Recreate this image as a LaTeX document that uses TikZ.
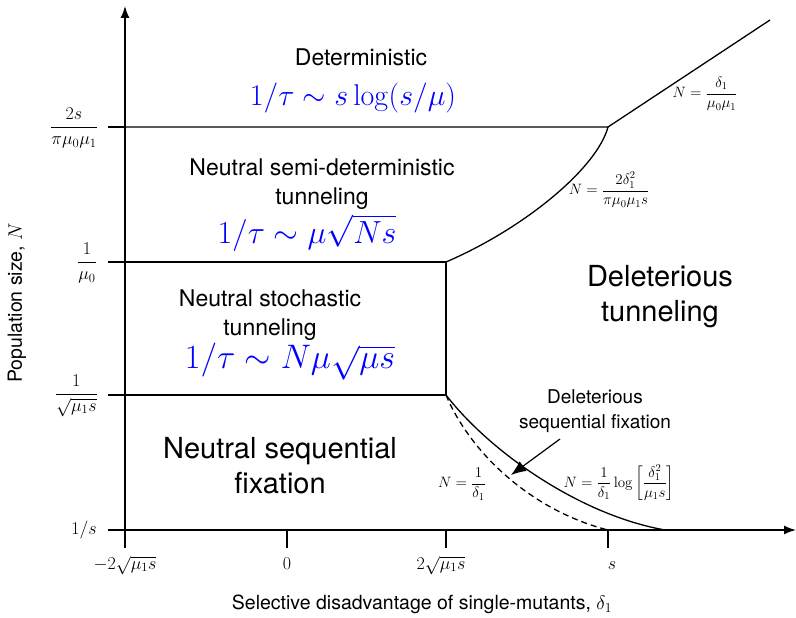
\RequirePackage{fix-cm}
\documentclass[tikz,border=0pt]{standalone}
\usepackage{amsmath}
\usepackage[no-math]{fontspec}
\setmainfont{TeX Gyre Heros}
\usetikzlibrary{arrows.meta}

\begin{document}
\begin{tikzpicture}[x=1pt,y=-1pt,
 boundary/.style={line width=1.3pt},
 axis/.style={line width=1.5pt,-{Latex[length=12pt,width=9pt]}},
 tick/.style={line width=1.3pt},
 pointer/.style={line width=1.2pt,-{Latex[length=15pt,width=12pt]}},
 regime/.style={align=center,inner sep=0pt,font=\fontsize{23}{29}\selectfont},
 regimeBig/.style={align=center,inner sep=0pt,font=\fontsize{29}{35}\selectfont},
 regimeSmall/.style={align=center,inner sep=0pt,font=\fontsize{19}{25}\selectfont},
 rate/.style={text=blue,inner sep=0pt},
 curveLabel/.style={inner sep=0pt,font=\fontsize{15}{18}\selectfont},
 tickLabel/.style={inner sep=0pt,font=\fontsize{18}{21}\selectfont},
 axisTitle/.style={inner sep=0pt,font=\fontsize{19.5}{23}\selectfont}]

 \useasboundingbox (0,0) rectangle (796,618);

 % axes
 \coordinate (yBot) at (125,548);
 \coordinate (yTop) at (125,6);
 \coordinate (xLeft) at (108,530);
 \coordinate (xRight) at (796,530);
 \draw[axis] (yBot) -- (yTop);
 \draw[axis] (xLeft) -- (xRight);

 % phase boundaries
 \coordinate (detL) at (125,127);
 \coordinate (detR) at (608,127);
 \coordinate (semiL) at (125,262);
 \coordinate (semiR) at (446,262);
 \coordinate (stochL) at (125,395);
 \coordinate (stochR) at (446,395);
 \coordinate (topEnd) at (770,20);
 \coordinate (solidEnd) at (665,530);
 \coordinate (dashEnd) at (608,530);
 \draw[boundary] (detL) -- (detR) -- (topEnd);
 \draw[boundary] (semiL) -- (semiR) -- (stochR) -- (stochL);
 \draw[boundary] (semiR) .. controls (525,228) and (597,168) .. (detR);
 \draw[boundary] (stochR) .. controls (490,452) and (580,515) .. (solidEnd);
 \draw[boundary,dashed,dash pattern=on 6pt off 4pt] (stochR) .. controls (470,452) and (530,510) .. (dashEnd);

 % ticks
 \draw[tick] (108,127) -- (detL);
 \draw[tick] (108,262) -- (semiL);
 \draw[tick] (108,395) -- (stochL);
 \draw[tick] (287,530) -- (287,548);
 \draw[tick] (446,530) -- (446,548);
 \draw[tick] (608,530) -- (608,548);

 % tick labels
 \node[tickLabel,anchor=east] (nDet) at (98,128) {$\dfrac{2s}{\pi\mu_0\mu_1}$};
 \node[tickLabel,anchor=east] (nSemi) at (97,263) {$\dfrac{1}{\mu_0}$};
 \node[tickLabel,anchor=east] (nStoch) at (98,396) {$\dfrac{1}{\sqrt{\mu_1 s}}$};
 \node[tickLabel,anchor=east] (nMin) at (97,530) {$1/s$};
 \node[tickLabel,anchor=base] (dNeg) at (125,569) {$-2\sqrt{\mu_1 s}$};
 \node[tickLabel,anchor=base] (dZero) at (287,569) {$0$};
 \node[tickLabel,anchor=base] (dPos) at (441,569) {$2\sqrt{\mu_1 s}$};
 \node[tickLabel,anchor=base] (dS) at (612,569) {$s$};

 % axis titles
 \node[axisTitle] (xTitle) at (422,604) {Selective disadvantage of single-mutants, $\delta_1$};
 \node[axisTitle,rotate=90] (yTitle) at (17,303) {Population size, $N$};

 % regimes
 \node[regime] (det) at (361,57) {Deterministic};
 \node[rate,font=\fontsize{30}{36}\selectfont] (detRate) at (353,98) {$1/\tau \sim s\log(s/\mu)$};
 \node[regime] (semi) at (322,184) {Neutral semi-deterministic\\tunneling};
 \node[rate,font=\fontsize{32}{38}\selectfont] (semiRate) at (307,233) {$1/\tau \sim \mu\sqrt{Ns}$};
 \node[regime] (stoch) at (270,315) {Neutral stochastic\\tunneling};
 \node[rate,font=\fontsize{34}{40}\selectfont] (stochRate) at (290,362) {$1/\tau \sim N\mu\sqrt{\mu s}$};
 \node[regimeBig] (neutSeq) at (280,466) {Neutral sequential\\fixation};
 \node[regimeBig] (delTun) at (660,297) {Deleterious\\tunneling};
 \node[regimeSmall] (delSeq) at (595,411) {Deleterious\\sequential fixation};

 % boundary labels
 \node[curveLabel] (lblTop) at (705,94) {$N=\dfrac{\delta_1}{\mu_0\mu_1}$};
 \node[curveLabel] (lblMid) at (609,190) {$N=\dfrac{2\delta_1^2}{\pi\mu_0\mu_1 s}$};
 \node[curveLabel] (lblDash) at (462,484) {$N=\dfrac{1}{\delta_1}$};
 \node[curveLabel] (lblSolid) at (619,483) {$N=\dfrac{1}{\delta_1}\log\left[\dfrac{\delta_1^2}{\mu_1 s}\right]$};

 % pointer to the solid boundary
 \coordinate (ptrTail) at (560,439);
 \coordinate (ptrHead) at (511,475);
 \draw[pointer] (ptrTail) -- (ptrHead);
\end{tikzpicture}
\end{document}
